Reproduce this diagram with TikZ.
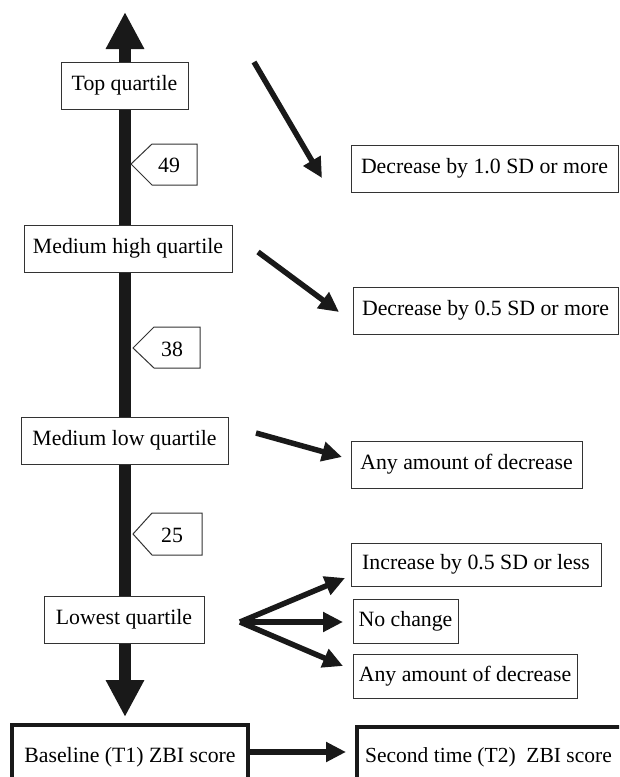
\documentclass[tikz,border=0pt]{standalone}
\usepackage{fontspec}
\setmainfont{Liberation Serif}
\newfontfamily\timesfont{Liberation Serif}
\usetikzlibrary{arrows.meta}
\begin{document}
\begin{tikzpicture}[x=1pt,y=-1pt,
  font=\timesfont\fontsize{21.8}{24}\selectfont,
  qbox/.style={draw=black!80, line width=1pt, fill=white, minimum height=47pt, inner sep=0pt},
  rbox/.style={draw=black!80, line width=1pt, fill=white, inner sep=0pt},
  thickbox/.style={draw=black!90, line width=4pt, fill=white, minimum height=64pt},
  tagshape/.style={draw=black!80, line width=1pt, fill=white},
  mainarrow/.style={draw=black!90, line width=12pt, {Triangle[length=37pt,width=36pt]}-{Triangle[length=37pt,width=36pt]}},
  conn/.style={draw=black!90, line width=5.5pt, -{Triangle[length=20pt,width=19pt]}}
]
\useasboundingbox (0,0) rectangle (619,777);
\clip (0,0) rectangle (619,777);

% main vertical arrow
\coordinate (maintop) at (125,12);
\coordinate (mainbot) at (125,717);
\draw[mainarrow] (maintop) -- (mainbot);

% quartile boxes
\node[qbox, minimum width=127pt] (top) at (124.5,85.5) {Top quartile};
\node[qbox, minimum width=208pt] (mhigh) at (128,248.5) {Medium high quartile};
\node[qbox, minimum width=207pt] (mlow) at (124.5,440.5) {Medium low quartile};
\node[qbox, minimum width=160pt] (lowest) at (124,619.5) {Lowest quartile};

% tags
\draw[tagshape] (131,164) -- (152,144) -- (197,144) -- (197,185) -- (152,185) -- cycle;
\node (t49) at (169,165) {49};
\draw[tagshape] (133,348) -- (154,327) -- (200,327) -- (200,368) -- (154,368) -- cycle;
\node (t38) at (172,349) {38};
\draw[tagshape] (133,534) -- (152,513) -- (202,513) -- (202,555) -- (152,555) -- cycle;
\node (t25) at (172,535) {25};

% right-hand boxes
\node[rbox, minimum width=267pt, minimum height=47pt] (dec1) at (484.5,168.5) {Decrease by 1.0 SD or more};
\node[rbox, minimum width=265pt, minimum height=47pt] (dec05) at (485.5,310.5) {Decrease by 0.5 SD or more};
\node[rbox, minimum width=231pt, minimum height=47pt] (any1) at (466.5,464.5) {Any amount of decrease};
\node[rbox, minimum width=250pt, minimum height=43pt] (inc) at (476,564.5) {Increase by 0.5 SD or less};
\node[rbox, minimum width=105pt, minimum height=44pt] (noch) at (405.5,621) {No change};
\node[rbox, minimum width=224pt, minimum height=44pt] (any2) at (465,676) {Any amount of decrease};

% bottom boxes
\node[thickbox, minimum width=236pt] (base) at (130,757) {Baseline (T1) ZBI score};
\node[thickbox, anchor=north west, minimum width=300pt] (second) at (355,725) {};
\node[anchor=west, inner sep=0pt] (secondtxt) at (365,757) {\fontsize{21.5}{24}\selectfont Second time (T2)\ \ ZBI score};

% connectors
\coordinate (a1s) at (254,62);  \coordinate (a1e) at (322,178);
\coordinate (a2s) at (258,252); \coordinate (a2e) at (339,312);
\coordinate (a3s) at (256,433); \coordinate (a3e) at (342,457);
\coordinate (fan) at (240,622);
\coordinate (f1e) at (345,578);
\coordinate (f2e) at (343,622);
\coordinate (f3e) at (343,666);
\coordinate (bs) at (250,752); \coordinate (be) at (346,752);

\draw[conn] (a1s) -- (a1e);
\draw[conn] (a2s) -- (a2e);
\draw[conn] (a3s) -- (a3e);
\draw[conn] (fan) -- (f1e);
\draw[conn] (fan) -- (f2e);
\draw[conn] (fan) -- (f3e);
\draw[conn] (bs) -- (be);
\end{tikzpicture}
\end{document}
